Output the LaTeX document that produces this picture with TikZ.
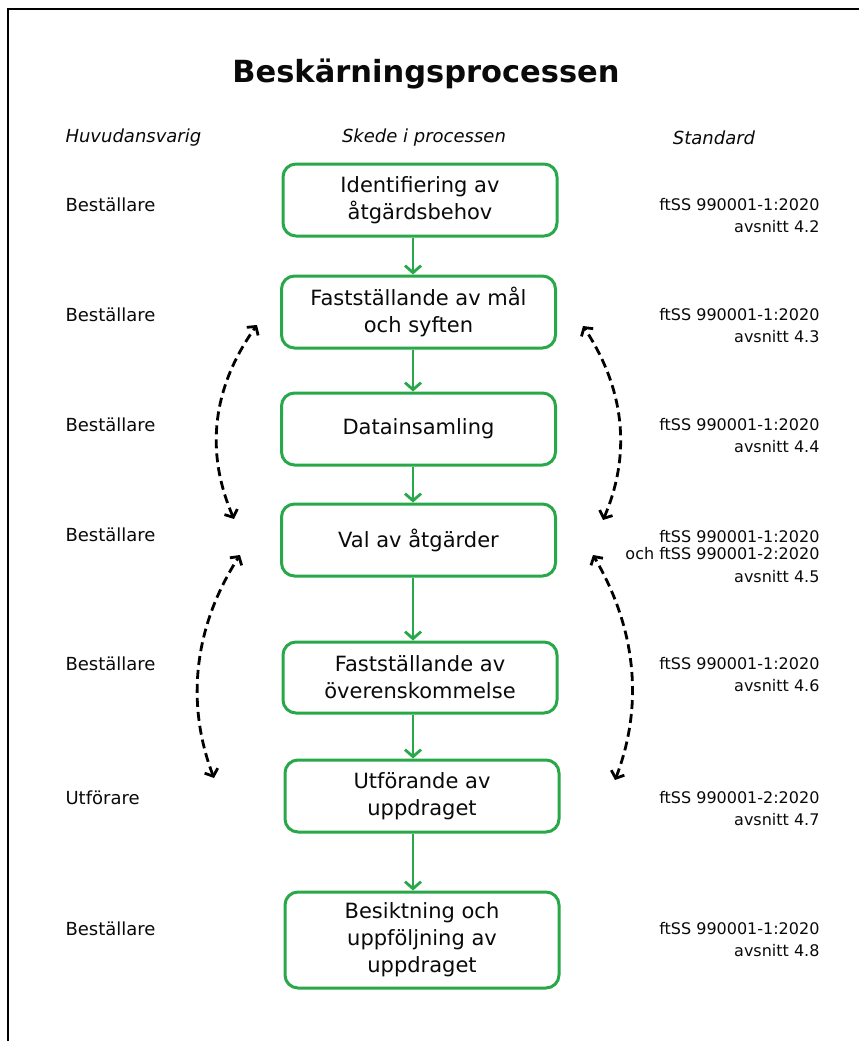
\documentclass[tikz,border=0pt]{standalone}
\usepackage{fontspec}
\setmainfont{DejaVu Sans}
\usetikzlibrary{arrows.meta}
\definecolor{boxgreen}{RGB}{40,168,72}
\definecolor{ink}{RGB}{10,10,10}
\begin{document}
\begin{tikzpicture}[x=1pt,y=-1pt,
  stage/.style={draw=boxgreen, line width=3pt, rounded corners=13pt, minimum width=274pt, minimum height=72pt, align=center, font=\fontsize{21}{27}\selectfont, inner sep=0pt, text=ink},
  flow/.style={draw=boxgreen, line width=2.8pt, -{Straight Barb[length=7pt,width=16pt,line width=2.8pt]}},
  loop/.style={dash pattern=on 9pt off 5pt, line width=2.8pt, {Straight Barb[length=6pt,width=14pt]}-{Straight Barb[length=6pt,width=14pt]}},
  who/.style={anchor=west, font=\fontsize{18}{22}\selectfont, text=ink},
  std/.style={anchor=east, align=right, font=\fontsize{16}{22}\selectfont, text=ink},
  head/.style={font=\fontsize{18}{22}\selectfont\itshape, text=ink}
]
\useasboundingbox (0,0) rectangle (859,1041);
\fill[white] (0,0) rectangle (859,1041);
% frame
\coordinate (fbl) at (8,1041);
\coordinate (ftl) at (8,9);
\coordinate (ftr) at (859,9);
\draw[line width=2.5pt] (fbl) -- (ftl) -- (ftr);

% title and headers
\node[font=\fontsize{30.5}{36}\selectfont\bfseries, text=ink] (title) at (426,74) {Beskärningsprocessen};
\node[head, anchor=west] (h1) at (62,138) {Huvudansvarig};
\node[head] (h2) at (424,138) {Skede i processen};
\node[head] (h3) at (714,138) {Standard};

% stages
\node[stage] (s1) at (420,200) {Identifiering av\\åtgärdsbehov};
\node[stage] (s2) at (418.5,312) {Fastställande av mål\\och syften};
\node[stage] (s3) at (418.5,429) {Datainsamling};
\node[stage] (s4) at (418.5,540) {Val av åtgärder};
\node[stage, minimum height=71pt] (s5) at (420,677.5) {Fastställande av\\överenskommelse};
\node[stage] (s6) at (422,796) {Utförande av\\uppdraget};
\node[stage, minimum height=96pt] (s7) at (422,940) {Besiktning och\\uppföljning av\\uppdraget};

% flow arrows
\coordinate (ax) at (413,0);
\draw[flow] (s1.south -| ax) -- (s2.north -| ax);
\draw[flow] (s2.south -| ax) -- (s3.north -| ax);
\draw[flow] (s3.south -| ax) -- (s4.north -| ax);
\draw[flow] (s4.south -| ax) -- (s5.north -| ax);
\draw[flow] (s5.south -| ax) -- (s6.north -| ax);
\draw[flow] (s6.south -| ax) -- (s7.north -| ax);

% responsible
\node[who] (w1) at (62,205) {Beställare};
\node[who] (w2) at (62,315) {Beställare};
\node[who] (w3) at (62,425) {Beställare};
\node[who] (w4) at (62,535) {Beställare};
\node[who] (w5) at (62,664) {Beställare};
\node[who] (w6) at (62,798) {Utförare};
\node[who] (w7) at (62,929) {Beställare};

% standards
\node[std] (r1) at (823,216) {ftSS 990001-1:2020\\avsnitt 4.2};
\node[std] (r2) at (823,326) {ftSS 990001-1:2020\\avsnitt 4.3};
\node[std] (r3) at (823,436) {ftSS 990001-1:2020\\avsnitt 4.4};
\node[std] (r4) at (823,557) {ftSS 990001-1:2020\\[-5pt]och ftSS 990001-2:2020\\[1pt]avsnitt 4.5};
\node[std] (r5) at (823,675) {ftSS 990001-1:2020\\avsnitt 4.6};
\node[std] (r6) at (823,809) {ftSS 990001-2:2020\\avsnitt 4.7};
\node[std] (r7) at (823,940) {ftSS 990001-1:2020\\avsnitt 4.8};

% dashed feedback arcs
\coordinate (la1) at (234,519);
\coordinate (lb1) at (257,325);
\coordinate (la2) at (214,778);
\coordinate (lb2) at (240,555);
\coordinate (ra1) at (603,520);
\coordinate (rb1) at (583,326);
\coordinate (ra2) at (615,780);
\coordinate (rb2) at (593,555);
\draw[loop] (la1) .. controls (205,452) and (212,388) .. (lb1);
\draw[loop] (la2) .. controls (186,705) and (193,628) .. (lb2);
\draw[loop] (ra1) .. controls (632,453) and (624,388) .. (rb1);
\draw[loop] (ra2) .. controls (644,705) and (636,628) .. (rb2);
\end{tikzpicture}
\end{document}
